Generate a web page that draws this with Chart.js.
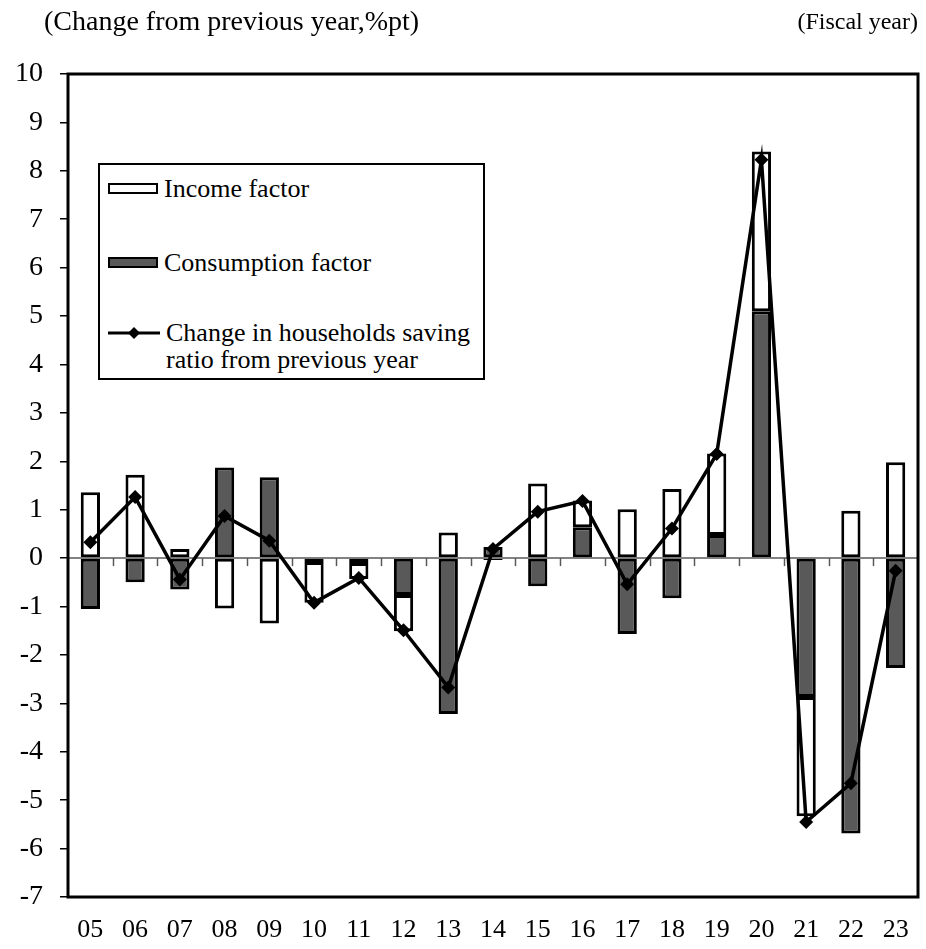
<!DOCTYPE html>
<html>
<head>
<meta charset="utf-8">
<script src="https://cdn.jsdelivr.net/npm/chart.js@4.4.1/dist/chart.umd.min.js"></script>
<style>
  html, body { margin: 0; padding: 0; background: #fff; }
  #wrap { position: relative; width: 926px; height: 949px; font-family: "Liberation Serif", "Times New Roman", serif; color: #000; }
  #chart { position: absolute; left: 0; top: 0; }
  .note { position: absolute; top: 4px; font-size: 28px; white-space: nowrap; line-height: 34px; }
  #legend { position: absolute; left: 98px; top: 163px; width: 383px; height: 213px; border: 2px solid #000; background: #fff; font-size: 26px; }
  .item { position: absolute; left: 8px; display: flex; align-items: center; line-height: 27px; }
  .sw { width: 50px; height: 11px; border: 2px solid #000; box-sizing: border-box; margin-right: 6px; }
</style>
</head>
<body>
<div id="wrap">
  <canvas id="chart" width="926" height="949"></canvas>
  <div class="note" style="left:44px">(Change from previous year,%pt)</div>
  <div class="note" style="right:8px; font-size:24px">(Fiscal year)</div>
  <div id="legend">
    <div class="item" style="top:10px"><div class="sw" style="background:#fff"></div>Income factor</div>
    <div class="item" style="top:84px"><div class="sw" style="background:#595959"></div>Consumption factor</div>
    <div class="item" style="top:154px; align-items:flex-start">
      <svg width="52" height="27" style="margin-right:6px"><line x1="0" y1="14" x2="52" y2="14" stroke="#000" stroke-width="3"/><polygon points="26,8 32,14 26,20 20,14" fill="#000"/></svg>
      <div>Change in households saving<br>ratio from previous year</div>
    </div>
  </div>
</div>
<script>
// fiscal years
const years = ['05','06','07','08','09','10','11','12','13','14','15','16','17','18','19','20','21','22','23'];
// contributions, %pt
const incomeFactor      = [1.36, 1.72, 0.19, -1.04, -1.35, -0.84, -0.33, -0.75, 0.53, -0.04, 1.54, 0.55, 1.01, 1.43, 1.68, 3.30, -2.46, 0.98, 1.98];
const consumptionFactor = [-1.05, -0.50, -0.65, 1.87, 1.67, -0.08, -0.10, -0.76, -3.22, 0.23, -0.58, 0.64, -1.57, -0.83, 0.48, 5.10, -2.87, -5.69, -2.27];
const savingRatioChange = [0.33, 1.26, -0.44, 0.87, 0.36, -0.92, -0.41, -1.49, -2.67, 0.19, 0.96, 1.18, -0.54, 0.61, 2.15, 8.23, -5.45, -4.65, -0.26];
const yTicks = [10, 9, 8, 7, 6, 5, 4, 3, 2, 1, 0, -1, -2, -3, -4, -5, -6, -7];

const GRAY = '#595959';

// zero line, small ticks on it, and the heavy frame
const framePlugin = {
  id: 'frame',
  beforeDatasetsDraw(chart) {
    const { ctx, chartArea: a, scales: { x, y } } = chart;
    const y0 = y.getPixelForValue(0);
    ctx.save();
    ctx.strokeStyle = GRAY;
    ctx.lineWidth = 1.5;
    ctx.beginPath();
    ctx.moveTo(a.left, y0);
    ctx.lineTo(a.right, y0);
    ctx.stroke();
    for (let i = 1; i < years.length; i++) {
      const px = Math.round((x.getPixelForValue(i - 1) + x.getPixelForValue(i)) / 2) + 0.5;
      ctx.beginPath();
      ctx.moveTo(px, y0);
      ctx.lineTo(px, y0 + 8);
      ctx.stroke();
    }
    ctx.restore();
  },
  afterDraw(chart) {
    const { ctx, chartArea: a } = chart;
    ctx.save();
    ctx.strokeStyle = '#000';
    ctx.lineWidth = 3;
    ctx.strokeRect(a.left, a.top, a.right - a.left, a.bottom - a.top);
    ctx.restore();
  }
};

new Chart(document.getElementById('chart'), {
  type: 'bar',
  data: {
    labels: years,
    datasets: [
      {
        type: 'line',
        label: 'Change in households saving ratio from previous year',
        data: savingRatioChange,
        stack: 'line',
        borderColor: '#000',
        borderWidth: 3.5,
        pointStyle: 'rectRot',
        pointRadius: 7,
        pointBackgroundColor: '#000',
        pointBorderColor: '#000',
        pointBorderWidth: 0,
        tension: 0
      },
      {
        label: 'Consumption factor',
        data: consumptionFactor,
        stack: 'bars',
        backgroundColor: GRAY,
        borderColor: '#000',
        borderWidth: 3,
        borderSkipped: false,
        categoryPercentage: 1,
        barPercentage: 0.43
      },
      {
        label: 'Income factor',
        data: incomeFactor,
        stack: 'bars',
        backgroundColor: '#fff',
        borderColor: '#000',
        borderWidth: 3,
        borderSkipped: false,
        categoryPercentage: 1,
        barPercentage: 0.43
      }
    ]
  },
  options: {
    responsive: false,
    animation: false,
    layout: { padding: { top: 74, right: 8, left: 0, bottom: 0 } },
    plugins: {
      legend: { display: false },
      tooltip: { enabled: false }
    },
    scales: {
      x: {
        stacked: true,
        grid: { display: false },
        border: { display: false },
        ticks: {
          color: '#000',
          padding: 10,
          maxRotation: 0,
          font: { family: '"Liberation Serif", serif', size: 26 }
        },
        afterFit(scale) { scale.height = 52; }
      },
      y: {
        stacked: true,
        min: -7,
        max: 10,
        afterBuildTicks(scale) { scale.ticks = yTicks.map(v => ({ value: v })); },
        grid: { drawOnChartArea: false, color: '#000', tickLength: 8, lineWidth: 1.5 },
        border: { display: false },
        ticks: {
          color: '#000',
          padding: 17,
          font: { family: '"Liberation Serif", serif', size: 28 }
        },
        afterFit(scale) { scale.width = 68; }
      }
    }
  },
  plugins: [framePlugin]
});
</script>
</body>
</html>
